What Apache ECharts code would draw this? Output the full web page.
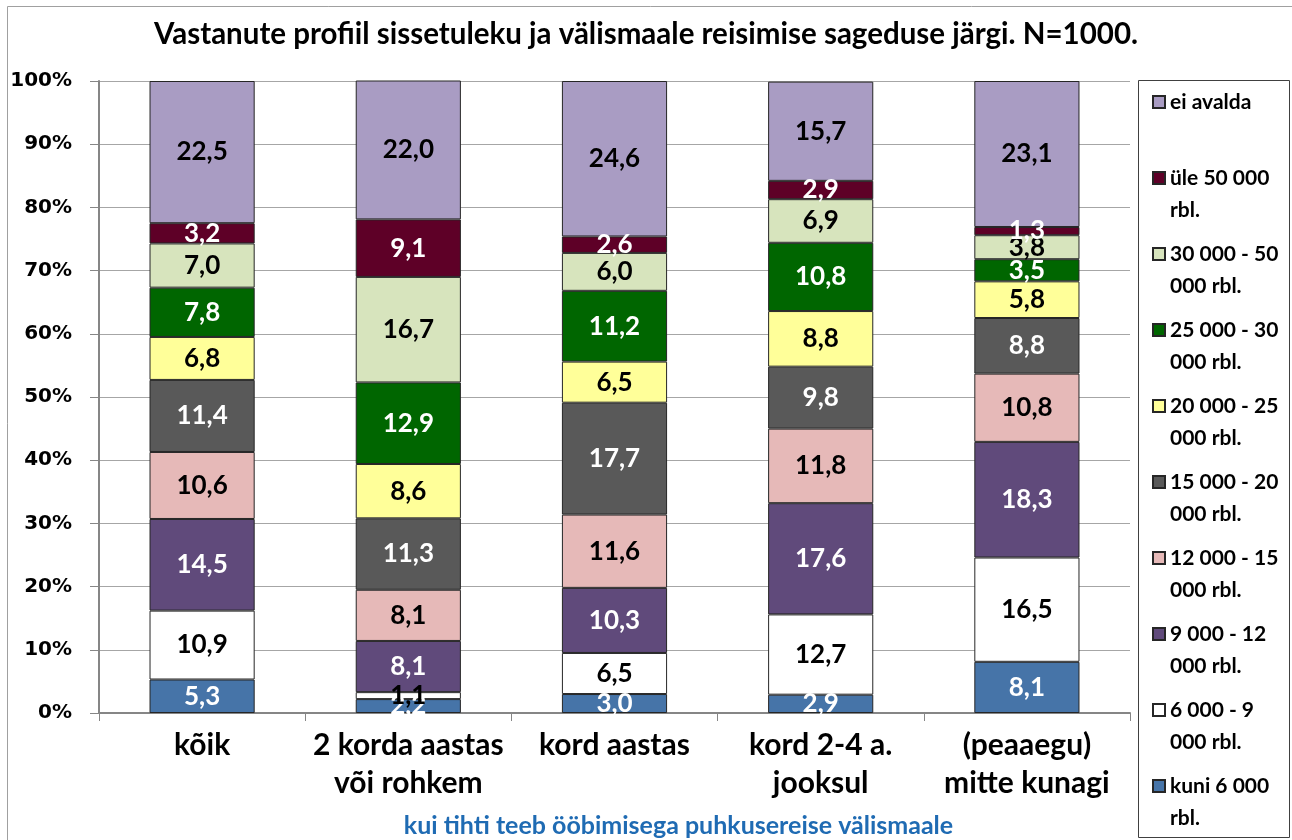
<!DOCTYPE html>
<html>
<head>
<meta charset="utf-8">
<script src="https://cdn.jsdelivr.net/npm/echarts@6/dist/echarts.min.js"></script>
<style>
    html, body { margin: 0; padding: 0; background: #fff; }
    #chart { width: 1292px; height: 840px; }
</style>
</head>
<body>
<div id="chart"></div>
<script>
// categories (how often travels abroad)
var categories = ['kõik', '2 korda aastas\nvõi rohkem', 'kord aastas', 'kord 2-4 a.\njooksul', '(peaaegu)\nmitte kunagi'];

// income groups, bottom of the stack first
var incomeNames = [
    'kuni 6 000\nrbl.',
    '6 000 - 9\n000 rbl.',
    '9 000 - 12\n000 rbl.',
    '12 000 - 15\n000 rbl.',
    '15 000 - 20\n000 rbl.',
    '20 000 - 25\n000 rbl.',
    '25 000 - 30\n000 rbl.',
    '30 000 - 50\n000 rbl.',
    'üle 50 000\nrbl.',
    'ei avalda\n '
];

// values per income group, one per category
var kuni6000 = [5.3, 2.2, 3.0, 2.9, 8.1];
var r6000_9000 = [10.9, 1.1, 6.5, 12.7, 16.5];
var r9000_12000 = [14.5, 8.1, 10.3, 17.6, 18.3];
var r12000_15000 = [10.6, 8.1, 11.6, 11.8, 10.8];
var r15000_20000 = [11.4, 11.3, 17.7, 9.8, 8.8];
var r20000_25000 = [6.8, 8.6, 6.5, 8.8, 5.8];
var r25000_30000 = [7.8, 12.9, 11.2, 10.8, 3.5];
var r30000_50000 = [7.0, 16.7, 6.0, 6.9, 3.8];
var yle50000 = [3.2, 9.1, 2.6, 2.9, 1.3];
var eiAvalda = [22.5, 22.0, 24.6, 15.7, 23.1];

var yTicks = [0, 10, 20, 30, 40, 50, 60, 70, 80, 90, 100];

var seriesValues = [kuni6000, r6000_9000, r9000_12000, r12000_15000, r15000_20000,
    r20000_25000, r25000_30000, r30000_50000, yle50000, eiAvalda];
var colors = ['#4674A8', '#FFFFFF', '#604A7B', '#E6B9B8', '#595959',
    '#FFFF99', '#006600', '#D7E4BD', '#5E0027', '#A99CC3'];
var labelColors = ['#fff', '#000', '#fff', '#000', '#fff', '#000', '#fff', '#000', '#fff', '#000'];

var FONT = 'Lato';

var series = seriesValues.map(function (vals, i) {
    return {
        name: incomeNames[i],
        type: 'bar',
        stack: 'total',
        barWidth: '51%',
        data: vals,
        itemStyle: {color: colors[i], borderColor: '#262626', borderWidth: 1},
        label: {
            show: true,
            position: 'inside',
            color: labelColors[i],
            fontFamily: FONT,
            fontWeight: 'bold',
            fontSize: 26,
            formatter: function (p) {
                return p.value.toFixed(1).replace('.', ',');
            }
        }
    };
});

var chart = echarts.init(document.getElementById('chart'));
chart.setOption({
    animation: false,
    title: {
        text: 'Vastanute profiil sissetuleku ja välismaale reisimise sageduse järgi. N=1000.',
        left: 'center',
        top: 14,
        textStyle: {fontFamily: FONT, fontWeight: 'bold', fontSize: 29.5, color: '#000'}
    },
    legend: {
        data: incomeNames.slice().reverse(),
        orient: 'vertical',
        left: 1152,
        top: 85,
        height: 800,
        padding: 0,
        itemGap: 10,
        itemWidth: 12,
        itemHeight: 64,
        // square at the first text line, empty points keep the box 12x64
        icon: 'path://M0,0L0,0M0,10L12,10L12,22L0,22ZM0,64L0,64',
        selectedMode: false,
        textStyle: {fontFamily: FONT, fontWeight: 'bold', fontSize: 21, lineHeight: 32, color: '#000'}
    },
    grid: {left: 99, right: 162, top: 81, bottom: 127, outerBoundsMode: 'none'},
    xAxis: {
        type: 'category',
        data: categories,
        name: 'kui tihti teeb ööbimisega puhkusereise välismaale',
        nameLocation: 'middle',
        nameGap: 100,
        nameTextStyle: {fontFamily: FONT, fontWeight: 'bold', fontSize: 25, color: '#1F6BB3', padding: [0, 0, 0, 128]},
        axisLine: {lineStyle: {color: '#868686', width: 2}},
        axisTick: {show: true, length: 8, lineStyle: {color: '#868686'}},
        axisLabel: {
            interval: 0,
            fontFamily: FONT, fontWeight: 'bold', fontSize: 30, lineHeight: 38,
            color: '#000', margin: 13
        }
    },
    yAxis: {
        type: 'value',
        min: 0,
        max: 100,
        interval: 10,
        axisLine: {show: true, lineStyle: {color: '#868686', width: 2}},
        axisTick: {show: true, length: 9, lineStyle: {color: '#868686'}},
        splitLine: {lineStyle: {color: '#A6A6A6', width: 1}},
        axisLabel: {
            fontFamily: 'DejaVu Sans', fontWeight: 'bold', fontSize: 20, color: '#000', margin: 27,
            formatter: function (v) { return yTicks.indexOf(v) >= 0 ? v + '%' : ''; }
        }
    },
    graphic: [
        {type: 'rect', shape: {x: 7.5, y: 6.5, width: 1300, height: 900}, style: {fill: null, stroke: '#A0A0A0', lineWidth: 1}, silent: true},
        {type: 'rect', shape: {x: 1138.5, y: 80.5, width: 151, height: 757}, style: {fill: null, stroke: '#404040', lineWidth: 1}, silent: true}
    ],
    series: series
});
</script>
</body>
</html>
